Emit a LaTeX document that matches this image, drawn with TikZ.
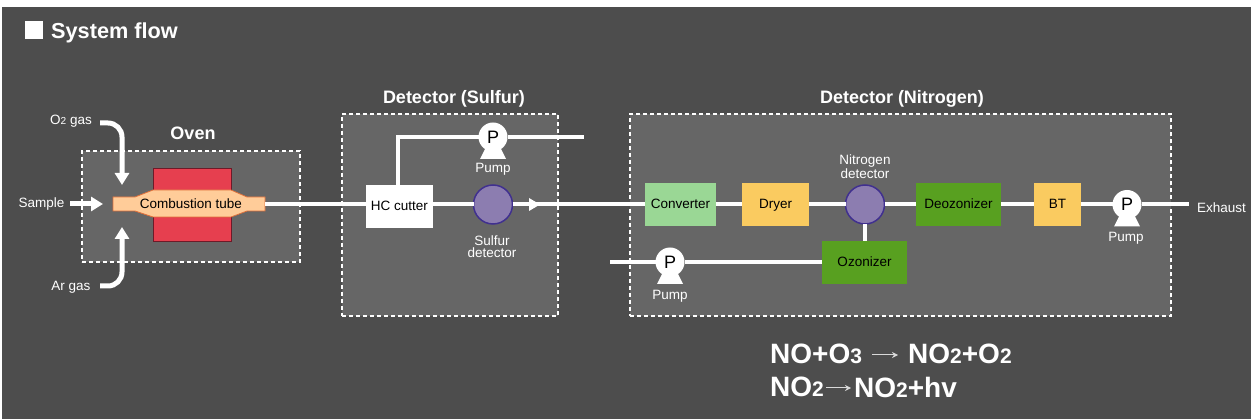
\documentclass[tikz,border=0pt]{standalone}
\usepackage{fontspec}
\setmainfont{Liberation Sans}
\usepackage{tikz}
\usetikzlibrary{arrows.meta}
\definecolor{bgdark}{HTML}{4D4D4D}
\definecolor{bgpanel}{HTML}{666666}
\definecolor{ovenred}{HTML}{E63F4F}
\definecolor{ovenedge}{HTML}{6E1A28}
\definecolor{tubefill}{HTML}{FFCC99}
\definecolor{tubeedge}{HTML}{E0703A}
\definecolor{convgreen}{HTML}{9AD795}
\definecolor{dryyellow}{HTML}{FACB60}
\definecolor{ozgreen}{HTML}{58A020}
\definecolor{detfill}{HTML}{8C7DB0}
\definecolor{detedge}{HTML}{40308F}
\newcommand{\subnum}[1]{\scalebox{.75}{#1}}
\newcommand{\pumpbase}[1]{\fill[white] ([shift={(-6,8)}]#1.center) -- ([shift={(6,8)}]#1.center) -- ([shift={(13,22)}]#1.center) -- ([shift={(-13,22)}]#1.center) -- cycle;}
\tikzset{
  panel/.style={draw=white, fill=bgpanel, dashed, dash pattern=on 4pt off 3pt, line width=1.6pt, inner sep=0, outer sep=0},
  unit/.style={inner sep=0, outer sep=0, text=black, font=\fontsize{13.5}{13.5}\selectfont, text height=1em, text depth=.15em, minimum height=43},
  detector/.style={circle, draw=detedge, fill=detfill, line width=1.5pt, minimum size=39, inner sep=0, outer sep=0},
  pumpnode/.style={circle, fill=white, minimum size=29, inner sep=0, outer sep=0, text=black, font=\fontsize{18}{18}\selectfont},
  label/.style={text=white, inner sep=0, font=\fontsize{13.5}{12.5}\selectfont, align=center},
  head/.style={text=white, inner sep=0, font=\fontsize{18}{18}\selectfont\bfseries},
  eqn/.style={text=white, inner sep=0, anchor=west, font=\fontsize{28}{28}\selectfont\bfseries},
  flow/.style={white, line width=4pt},
  gasline/.style={white, line width=5pt, -{Triangle[width=14pt,length=12pt]}},
  eqarrow/.style={white!85!black, line width=1pt, -{Stealth[width=6pt,length=6pt]}}
}
\begin{document}
\begin{tikzpicture}[x=1pt, y=-1pt]
  \useasboundingbox (0,0) rectangle (1251,419);
  \fill[white] (0,0) rectangle (1251,419);
  \fill[bgdark] (2,7) rectangle (1251,419);

  \fill[white] (25,21) rectangle (43,39);
  \node[text=white, inner sep=0, anchor=west, font=\fontsize{21.7}{22}\selectfont\bfseries] (title) at (51,32.5) {System flow};

  \node[panel, minimum width=218, minimum height=111] (ovenbox) at (191,206.5) {};
  \node[panel, minimum width=216, minimum height=202] (sulfurbox) at (450,215) {};
  \node[panel, minimum width=541, minimum height=202] (nitrogenbox) at (900.5,215) {};
  \node[head] (ovenhead) at (193,133.5) {Oven};
  \node[head] (sulfurhead) at (454,99) {Detector (Sulfur)};
  \node[head] (nitrogenhead) at (902,99) {Detector (Nitrogen)};

  \draw[ovenedge, fill=ovenred, line width=1pt] (153,169) rectangle (231,242);
  \draw[tubeedge, fill=tubefill, line width=.8pt] (113,197) -- (135,197) -- (153,190) -- (231,190) -- (247,197) -- (265,197) -- (265,211) -- (247,211) -- (231,217) -- (153,217) -- (135,211) -- (113,211) -- cycle;
  \node[unit, minimum height=14] (tube) at (191,204) {Combustion tube};
  \coordinate (tubeend) at (265,204.5);

  \node[unit, fill=white, minimum width=67] (hccutter) at (399.5,206.5) {HC cutter};
  \node[detector] (sulfurdet) at (493,204.5) {};
  \node[pumpnode] (pumpsulfur) at (493,137) {P};
  \node[unit, fill=convgreen, minimum width=71] (converter) at (680.5,204.5) {Converter};
  \node[unit, fill=dryyellow, minimum width=67] (dryer) at (775.5,204.5) {Dryer};
  \node[detector] (nitrogendet) at (865,204.5) {};
  \node[unit, fill=ozgreen, minimum width=85] (deozonizer) at (958.5,204.5) {Deozonizer};
  \node[unit, fill=dryyellow, minimum width=47] (bt) at (1057.5,204.5) {BT};
  \node[pumpnode] (pumpexhaust) at (1127,204.5) {P};
  \node[unit, fill=ozgreen, minimum width=85] (ozonizer) at (864.5,262.5) {Ozonizer};
  \node[pumpnode] (pumpozone) at (670,262) {P};
  \pumpbase{pumpsulfur}
  \pumpbase{pumpexhaust}
  \pumpbase{pumpozone}

  \coordinate (ventsulfur) at (584,137);
  \coordinate (exhaustend) at (1189,204.5);
  \coordinate (ozonein) at (610,262);
  \draw[flow] (tubeend) -- (tubeend -| hccutter.west);
  \draw[flow] (hccutter.east |- sulfurdet) -- (sulfurdet);
  \draw[flow] ([xshift=-1.5pt]hccutter.north) |- (pumpsulfur);
  \draw[flow] (pumpsulfur) -- (ventsulfur);
  \draw[flow] (sulfurdet) -- (sulfurdet -| converter.west);
  \fill[white] (529,198) -- (540,204.5) -- (529,211) -- cycle;
  \draw[flow] (converter) -- (dryer);
  \draw[flow] (dryer) -- (nitrogendet);
  \draw[flow] (nitrogendet) -- (deozonizer);
  \draw[flow] (deozonizer) -- (bt);
  \draw[flow] (bt) -- (pumpexhaust);
  \draw[flow] (pumpexhaust) -- (exhaustend);
  \draw[flow] (nitrogendet) -- (nitrogendet |- ozonizer.north);
  \draw[flow] (ozonein) -- (pumpozone);
  \draw[flow] (pumpozone) -- (pumpozone -| ozonizer.west);

  \coordinate (o2start) at (100,123);
  \coordinate (o2tip) at (122,185);
  \coordinate (arstart) at (100,286);
  \coordinate (artip) at (122,227);
  \coordinate (samplestart) at (70,204);
  \coordinate (sampletip) at (103,204);
  \draw[gasline, rounded corners=14pt] (o2start) -| (o2tip);
  \draw[gasline, rounded corners=14pt] (arstart) -| (artip);
  \draw[gasline] (samplestart) -- (sampletip);

  \node[label] (o2label) at (71,121) {O\subnum{2} gas};
  \node[label] (arlabel) at (71,287) {Ar gas};
  \node[label] (samplelabel) at (41.5,204.5) {Sample};
  \node[label] (pumplabel) at (493,169.5) {Pump};
  \node[label] (sulfurlabel) at (492,246.5) {Sulfur\\detector};
  \node[label] (nitrogenlabel) at (865,166.5) {Nitrogen\\detector};
  \node[label] (pumplabelex) at (1126,238.5) {Pump};
  \node[label] (pumplabeloz) at (670,296.5) {Pump};
  \node[label] (exhaustlabel) at (1221.5,208) {Exhaust};

  \node[eqn] (eqnoa) at (770,353.5) {NO+O\subnum{3}};
  \node[eqn] (eqnob) at (908,353.5) {NO\subnum{2}+O\subnum{2}};
  \node[eqn] (eqnoc) at (770,387) {NO\subnum{2}};
  \node[eqn] (eqnod) at (854,387) {NO\subnum{2}+hv};
  \draw[eqarrow] ([xshift=10pt,yshift=-1.5pt]eqnoa.east) -- ([xshift=-10pt,yshift=-1.5pt]eqnob.west);
  \draw[eqarrow] ([xshift=2pt,yshift=-1pt]eqnoc.east) -- ([xshift=-3pt,yshift=-1pt]eqnod.west);
\end{tikzpicture}
\end{document}
